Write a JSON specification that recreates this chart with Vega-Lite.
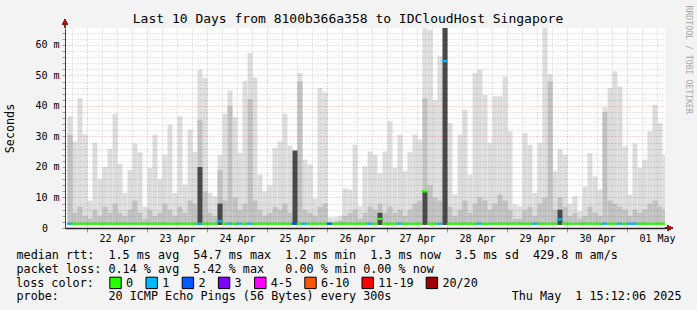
{
  "$schema": "https://vega.github.io/schema/vega-lite/v6.json",
  "width": 600,
  "height": 200,
  "autosize": {"type": "none"},
  "padding": {"left": 65, "top": 28, "right": 32, "bottom": 82},
  "background": "#f3f3f3",
  "title": {"text": "Last 10 Days from 8100b366a358 to IDCloudHost Singapore", "font": "DejaVu Sans Mono", "fontSize": 13, "fontWeight": "normal", "color": "#000000", "anchor": "middle", "frame": "group", "dx": -17, "dy": 35, "offset": 4, "baseline": "alphabetic"},
  "config": {
    "font": "DejaVu Sans Mono",
    "view": {"fill": "#ffffff", "stroke": null}
  },
  "data": {"values": [
    {"t": "2025-04-21T16:00", "hi": 36.6, "mid": 30.6, "med": 1.4, "loss": "1"},
    {"t": "2025-04-21T18:00", "hi": 28.4, "mid": 5, "med": 1.4, "loss": "0"},
    {"t": "2025-04-21T20:00", "hi": 42.6, "mid": 7, "med": 1.4, "loss": "0"},
    {"t": "2025-04-21T22:00", "hi": 30.6, "mid": 4, "med": 1.4, "loss": "0"},
    {"t": "2025-04-22T00:00", "hi": 9, "mid": 3, "med": 1.4, "loss": "0"},
    {"t": "2025-04-22T02:00", "hi": 28, "mid": 6, "med": 1.4, "loss": "0"},
    {"t": "2025-04-22T04:00", "hi": 16, "mid": 4, "med": 1.4, "loss": "0"},
    {"t": "2025-04-22T06:00", "hi": 20, "mid": 7, "med": 1.4, "loss": "0"},
    {"t": "2025-04-22T08:00", "hi": 25.9, "mid": 5, "med": 1.4, "loss": "0"},
    {"t": "2025-04-22T10:00", "hi": 37.5, "mid": 8, "med": 1.4, "loss": "0"},
    {"t": "2025-04-22T12:00", "hi": 21, "mid": 5, "med": 1.4, "loss": "0"},
    {"t": "2025-04-22T14:00", "hi": 11.5, "mid": 4, "med": 1.4, "loss": "0"},
    {"t": "2025-04-22T16:00", "hi": 19, "mid": 6, "med": 1.4, "loss": "0"},
    {"t": "2025-04-22T18:00", "hi": 27.7, "mid": 9, "med": 1.4, "loss": "0"},
    {"t": "2025-04-22T20:00", "hi": 24.8, "mid": 5, "med": 1.4, "loss": "0"},
    {"t": "2025-04-22T22:00", "hi": 7, "mid": 3, "med": 1.4, "loss": "0"},
    {"t": "2025-04-23T00:00", "hi": 19.7, "mid": 6, "med": 1.4, "loss": "0"},
    {"t": "2025-04-23T02:00", "hi": 30.6, "mid": 4, "med": 1.4, "loss": "0"},
    {"t": "2025-04-23T04:00", "hi": 16, "mid": 5, "med": 1.4, "loss": "0"},
    {"t": "2025-04-23T06:00", "hi": 24, "mid": 8, "med": 1.4, "loss": "0"},
    {"t": "2025-04-23T08:00", "hi": 33.9, "mid": 6, "med": 1.4, "loss": "0"},
    {"t": "2025-04-23T10:00", "hi": 11.5, "mid": 4, "med": 1.4, "loss": "0"},
    {"t": "2025-04-23T12:00", "hi": 36.6, "mid": 7, "med": 1.4, "loss": "0"},
    {"t": "2025-04-23T14:00", "hi": 14.2, "mid": 5, "med": 1.4, "loss": "0"},
    {"t": "2025-04-23T16:00", "hi": 32.2, "mid": 9, "med": 1.4, "loss": "0"},
    {"t": "2025-04-23T18:00", "hi": 25, "mid": 8, "med": 1.4, "loss": "0"},
    {"t": "2025-04-23T20:00", "hi": 51.9, "mid": 35.5, "dk": 20, "med": 1.4, "loss": "1"},
    {"t": "2025-04-23T22:00", "hi": 49.2, "mid": 12, "med": 1.4, "loss": "0"},
    {"t": "2025-04-24T00:00", "hi": 11.5, "mid": 5, "med": 1.4, "loss": "0"},
    {"t": "2025-04-24T02:00", "hi": 10.4, "mid": 4, "med": 1.4, "loss": "0"},
    {"t": "2025-04-24T04:00", "hi": 24, "mid": 19, "dk": 8, "med": 2.2, "loss": "1"},
    {"t": "2025-04-24T06:00", "hi": 37.5, "mid": 9, "med": 1.4, "loss": "0"},
    {"t": "2025-04-24T08:00", "hi": 45.1, "mid": 40, "med": 1.4, "loss": "1"},
    {"t": "2025-04-24T10:00", "hi": 36.4, "mid": 10, "med": 1.4, "loss": "0"},
    {"t": "2025-04-24T12:00", "hi": 24.6, "mid": 6, "med": 1.4, "loss": "1"},
    {"t": "2025-04-24T14:00", "hi": 48.3, "mid": 8, "med": 1.4, "loss": "0"},
    {"t": "2025-04-24T16:00", "hi": 57.4, "mid": 42.3, "med": 1.4, "loss": "1"},
    {"t": "2025-04-24T18:00", "hi": 49.4, "mid": 9, "med": 1.4, "loss": "0"},
    {"t": "2025-04-24T20:00", "hi": 17.5, "mid": 6, "med": 1.4, "loss": "0"},
    {"t": "2025-04-24T22:00", "hi": 12, "mid": 4, "med": 1.4, "loss": "0"},
    {"t": "2025-04-25T00:00", "hi": 14.2, "mid": 5, "med": 1.4, "loss": "0"},
    {"t": "2025-04-25T02:00", "hi": 26.2, "mid": 7, "med": 1.4, "loss": "0"},
    {"t": "2025-04-25T04:00", "hi": 28.4, "mid": 6, "med": 1.4, "loss": "0"},
    {"t": "2025-04-25T06:00", "hi": 37.4, "mid": 8, "med": 1.4, "loss": "0"},
    {"t": "2025-04-25T08:00", "hi": 27, "mid": 5, "med": 1.4, "loss": "0"},
    {"t": "2025-04-25T10:00", "hi": 25.4, "mid": 10, "dk": 25.4, "med": 1.4, "loss": "2"},
    {"t": "2025-04-25T12:00", "hi": 50.8, "mid": 48, "med": 1.4, "loss": "0"},
    {"t": "2025-04-25T14:00", "hi": 22.4, "mid": 6, "med": 1.4, "loss": "1"},
    {"t": "2025-04-25T16:00", "hi": 20.8, "mid": 5, "med": 1.4, "loss": "0"},
    {"t": "2025-04-25T18:00", "hi": 9.8, "mid": 4, "med": 1.4, "loss": "0"},
    {"t": "2025-04-25T20:00", "hi": 45.9, "mid": 7, "med": 1.4, "loss": "0"},
    {"t": "2025-04-25T22:00", "hi": 44.5, "mid": 8, "med": 1.4, "loss": "0"},
    {"t": "2025-04-26T00:00", "hi": 3.5, "mid": 2, "med": 1.4, "loss": "2"},
    {"t": "2025-04-26T02:00", "hi": 3.5, "mid": 2, "med": 1.4, "loss": "0"},
    {"t": "2025-04-26T04:00", "hi": 4, "mid": 2.5, "med": 1.4, "loss": "0"},
    {"t": "2025-04-26T06:00", "hi": 13, "mid": 4, "med": 1.4, "loss": "0"},
    {"t": "2025-04-26T08:00", "hi": 12.6, "mid": 5, "med": 1.4, "loss": "0"},
    {"t": "2025-04-26T10:00", "hi": 27.3, "mid": 6, "med": 1.4, "loss": "0"},
    {"t": "2025-04-26T12:00", "hi": 7.1, "mid": 3, "med": 1.4, "loss": "0"},
    {"t": "2025-04-26T14:00", "hi": 20.2, "mid": 5, "med": 1.4, "loss": "0"},
    {"t": "2025-04-26T16:00", "hi": 25.1, "mid": 7, "med": 1.4, "loss": "1"},
    {"t": "2025-04-26T18:00", "hi": 24, "mid": 6, "med": 1.4, "loss": "0"},
    {"t": "2025-04-26T20:00", "hi": 18, "mid": 8, "dk": 5, "med": 3.0, "loss": "0"},
    {"t": "2025-04-26T22:00", "hi": 25.1, "mid": 5, "med": 1.4, "loss": "0"},
    {"t": "2025-04-27T00:00", "hi": 35, "mid": 7, "med": 1.4, "loss": "0"},
    {"t": "2025-04-27T02:00", "hi": 19.7, "mid": 5, "med": 1.4, "loss": "0"},
    {"t": "2025-04-27T04:00", "hi": 30.6, "mid": 6, "med": 1.4, "loss": "1"},
    {"t": "2025-04-27T06:00", "hi": 18.6, "mid": 4, "med": 1.4, "loss": "0"},
    {"t": "2025-04-27T08:00", "hi": 25, "mid": 6, "med": 1.4, "loss": "0"},
    {"t": "2025-04-27T10:00", "hi": 30.6, "mid": 8, "med": 1.4, "loss": "0"},
    {"t": "2025-04-27T12:00", "hi": 29, "mid": 9, "med": 1.4, "loss": "0"},
    {"t": "2025-04-27T14:00", "hi": 65.5, "mid": 42.6, "dk": 12, "med": 12, "loss": "0"},
    {"t": "2025-04-27T16:00", "hi": 65, "mid": 14, "med": 1.4, "loss": "0"},
    {"t": "2025-04-27T18:00", "hi": 42, "mid": 10, "med": 1.4, "loss": "0"},
    {"t": "2025-04-27T20:00", "hi": 56.3, "mid": 9, "med": 1.4, "loss": "1"},
    {"t": "2025-04-27T22:00", "hi": 65.6, "mid": 20, "dk": 65.6, "med": 54.7, "loss": "1"},
    {"t": "2025-04-28T00:00", "hi": 34.4, "mid": 7, "med": 1.4, "loss": "0"},
    {"t": "2025-04-28T02:00", "hi": 11, "mid": 4, "med": 1.4, "loss": "0"},
    {"t": "2025-04-28T04:00", "hi": 30.6, "mid": 6, "med": 1.4, "loss": "0"},
    {"t": "2025-04-28T06:00", "hi": 38.8, "mid": 9, "med": 1.4, "loss": "0"},
    {"t": "2025-04-28T08:00", "hi": 17.5, "mid": 5, "med": 1.4, "loss": "0"},
    {"t": "2025-04-28T10:00", "hi": 50.8, "mid": 8, "med": 1.4, "loss": "0"},
    {"t": "2025-04-28T12:00", "hi": 51.9, "mid": 10, "med": 1.4, "loss": "1"},
    {"t": "2025-04-28T14:00", "hi": 43.7, "mid": 9, "med": 1.4, "loss": "0"},
    {"t": "2025-04-28T16:00", "hi": 27.9, "mid": 6, "med": 1.4, "loss": "0"},
    {"t": "2025-04-28T18:00", "hi": 43.2, "mid": 8, "med": 1.4, "loss": "0"},
    {"t": "2025-04-28T20:00", "hi": 43.2, "mid": 11, "med": 1.4, "loss": "0"},
    {"t": "2025-04-28T22:00", "hi": 49.7, "mid": 9, "med": 1.4, "loss": "0"},
    {"t": "2025-04-29T00:00", "hi": 31.7, "mid": 6, "med": 1.4, "loss": "0"},
    {"t": "2025-04-29T02:00", "hi": 7.7, "mid": 3, "med": 1.4, "loss": "0"},
    {"t": "2025-04-29T04:00", "hi": 7.1, "mid": 3, "med": 1.4, "loss": "0"},
    {"t": "2025-04-29T06:00", "hi": 31.1, "mid": 6, "med": 1.4, "loss": "0"},
    {"t": "2025-04-29T08:00", "hi": 27.3, "mid": 7, "med": 1.4, "loss": "0"},
    {"t": "2025-04-29T10:00", "hi": 11.5, "mid": 4, "med": 1.4, "loss": "1"},
    {"t": "2025-04-29T12:00", "hi": 27.9, "mid": 8, "med": 1.4, "loss": "0"},
    {"t": "2025-04-29T14:00", "hi": 65.6, "mid": 10, "med": 1.4, "loss": "0"},
    {"t": "2025-04-29T16:00", "hi": 50.5, "mid": 48, "med": 1.4, "loss": "0"},
    {"t": "2025-04-29T18:00", "hi": 18.6, "mid": 6, "med": 1.4, "loss": "0"},
    {"t": "2025-04-29T20:00", "hi": 25.9, "mid": 10, "dk": 6, "med": 2.8, "loss": "1"},
    {"t": "2025-04-29T22:00", "hi": 24, "mid": 7, "med": 1.4, "loss": "0"},
    {"t": "2025-04-30T00:00", "hi": 8, "mid": 4, "med": 1.4, "loss": "0"},
    {"t": "2025-04-30T02:00", "hi": 10.4, "mid": 5, "med": 1.4, "loss": "0"},
    {"t": "2025-04-30T04:00", "hi": 5.5, "mid": 3, "med": 1.4, "loss": "0"},
    {"t": "2025-04-30T06:00", "hi": 13.7, "mid": 4, "med": 1.4, "loss": "0"},
    {"t": "2025-04-30T08:00", "hi": 24.6, "mid": 7, "med": 1.4, "loss": "0"},
    {"t": "2025-04-30T10:00", "hi": 16.9, "mid": 5, "med": 1.4, "loss": "0"},
    {"t": "2025-04-30T12:00", "hi": 12.6, "mid": 4, "med": 1.4, "loss": "0"},
    {"t": "2025-04-30T14:00", "hi": 39.6, "mid": 38, "med": 1.4, "loss": "1"},
    {"t": "2025-04-30T16:00", "hi": 45.9, "mid": 9, "med": 1.4, "loss": "0"},
    {"t": "2025-04-30T18:00", "hi": 51.4, "mid": 8, "med": 1.4, "loss": "0"},
    {"t": "2025-04-30T20:00", "hi": 46.4, "mid": 7, "med": 1.4, "loss": "1"},
    {"t": "2025-04-30T22:00", "hi": 26.8, "mid": 6, "med": 1.4, "loss": "0"},
    {"t": "2025-05-01T00:00", "hi": 10.9, "mid": 4, "med": 1.4, "loss": "1"},
    {"t": "2025-05-01T02:00", "hi": 27.7, "mid": 6, "med": 1.4, "loss": "1"},
    {"t": "2025-05-01T04:00", "hi": 19.7, "mid": 5, "med": 1.4, "loss": "0"},
    {"t": "2025-05-01T06:00", "hi": 22.4, "mid": 6, "med": 1.4, "loss": "0"},
    {"t": "2025-05-01T08:00", "hi": 31.7, "mid": 8, "med": 1.4, "loss": "0"},
    {"t": "2025-05-01T10:00", "hi": 40.4, "mid": 9, "med": 1.4, "loss": "0"},
    {"t": "2025-05-01T12:00", "hi": 34.4, "mid": 7, "med": 1.4, "loss": "0"},
    {"t": "2025-05-01T14:00", "hi": 24, "mid": 6, "med": 1.4, "loss": "0"}
  ]},
  "resolve": {"axis": {"x": "independent", "y": "independent"}},
  "layer": [
    {
      "mark": {"type": "bar", "color": "#dddddd", "clip": true, "binSpacing": 0},
      "encoding": {
        "x": {"field": "t", "type": "temporal", "timeUnit": {"unit": "yearmonthdatehours", "step": 2},
          "scale": {"domain": [{"year": 2025, "month": 4, "date": 21, "hours": 15, "minutes": 12, "seconds": 6}, {"year": 2025, "month": 5, "date": 1, "hours": 15, "minutes": 12, "seconds": 6}]},
          "axis": {
            "orient": "bottom",
            "title": ["median rtt:\u00a0\u00a01.5 ms avg\u00a0\u00a054.7 ms max\u00a0\u00a01.2 ms min\u00a0\u00a01.3 ms now\u00a0\u00a03.5 ms sd\u00a0\u00a0429.8 m am/s", "packet loss: 0.14 % avg\u00a0\u00a05.42 % max\u00a0\u00a0\u00a00.00 % min 0.00 % now"],
            "titleFont": "DejaVu Sans Mono", "titleFontSize": 11.75, "titleFontWeight": "normal", "titleColor": "#000000",
            "titleLineHeight": 13.6, "titleAlign": "left", "titleBaseline": "alphabetic", "titleAngle": 0, "titleX": -49, "titleY": 30.5,
            "tickCount": 40,
            "labelExpr": "hours(datum.value) === 12 ? timeFormat(datum.value, '%d %b') : ''",
            "labelFont": "DejaVu Sans Mono", "labelFontSize": 10, "labelColor": "#000000", "labelOverlap": false, "labelFlush": false, "labelPadding": 1,
            "tickSize": 4,
            "tickColor": {"condition": {"test": "hours(datum.value) === 0", "value": "#e07070"}, "value": "transparent"},
            "grid": true,
            "gridColor": {"condition": {"test": "hours(datum.value) === 0", "value": "#e00000"}, "value": "#000000"},
            "gridOpacity": {"condition": {"test": "hours(datum.value) === 0", "value": 0.33}, "value": 0.2},
            "gridDash": [1, 2],
            "domainColor": "#222222", "domainWidth": 1.5,
            "zindex": 1
          }
        },
        "y": {"field": "hi", "type": "quantitative",
          "scale": {"domain": [0, 65.57], "nice": false, "zero": true},
          "axis": {
            "orient": "left",
            "title": "Seconds", "titleFont": "DejaVu Sans Mono", "titleFontSize": 11.75, "titleFontWeight": "normal", "titleColor": "#000000",
            "titleAngle": 270, "titleX": -55.5, "titleY": 100, "titleAlign": "center", "titleBaseline": "middle",
            "values": [0, 2, 4, 6, 8, 10, 12, 14, 16, 18, 20, 22, 24, 26, 28, 30, 32, 34, 36, 38, 40, 42, 44, 46, 48, 50, 52, 54, 56, 58, 60, 62, 64],
            "labelExpr": "datum.value % 10 == 0 ? (datum.value == 0 ? '0' : (datum.value + ' m')) : ''",
            "labelFont": "DejaVu Sans Mono", "labelFontSize": 10, "labelColor": "#000000", "labelOverlap": false,
            "labelPadding": {"condition": {"test": "datum.value == 0", "value": 14.5}, "value": 3},
            "tickSize": 3, "tickColor": "#999999",
            "grid": true,
            "gridColor": {"condition": {"test": "datum.value % 10 == 0", "value": "#e00000"}, "value": "#000000"},
            "gridOpacity": {"condition": {"test": "datum.value % 10 == 0", "value": 0.33}, "value": 0.2},
            "gridDash": [1, 2],
            "domainColor": "#444444",
            "zindex": 1
          }
        },
        "y2": {"datum": 1.0}
      }
    },
    {
      "mark": {"type": "bar", "color": "#c2c2c2", "clip": true, "binSpacing": 0},
      "encoding": {
        "x": {"field": "t", "type": "temporal", "timeUnit": {"unit": "yearmonthdatehours", "step": 2}, "axis": null},
        "y": {"field": "mid", "type": "quantitative", "axis": null},
        "y2": {"datum": 1.0}
      }
    },
    {
      "mark": {"type": "bar", "color": "#4a4a4a", "clip": true, "binSpacing": 0},
      "encoding": {
        "x": {"field": "t", "type": "temporal", "timeUnit": {"unit": "yearmonthdatehours", "step": 2}, "axis": null},
        "y": {"field": "dk", "type": "quantitative", "axis": null},
        "y2": {"datum": 1.0}
      }
    },
    {
      "mark": {"type": "tick", "orient": "horizontal", "size": 5.4, "thickness": 2.2, "opacity": 1, "clip": true},
      "encoding": {
        "x": {"field": "t", "type": "temporal", "timeUnit": {"unit": "yearmonthdatehours", "step": 2}, "bandPosition": 0.5,
          "axis": {"orient": "top", "title": "probe:\u00a0\u00a0\u00a0\u00a0\u00a0\u00a0\u00a020 ICMP Echo Pings (56 Bytes) every 300s\u00a0\u00a0\u00a0\u00a0\u00a0\u00a0\u00a0\u00a0\u00a0\u00a0\u00a0\u00a0\u00a0\u00a0\u00a0\u00a0\u00a0Thu May\u00a0\u00a01 15:12:06 2025",
            "titleFont": "DejaVu Sans Mono", "titleFontSize": 11.75, "titleFontWeight": "normal", "titleColor": "#000000",
            "titleAlign": "left", "titleBaseline": "alphabetic", "titleAngle": 0, "titleX": -49, "titleY": 271.8,
            "labels": false, "ticks": false, "domain": false, "grid": false}
        },
        "y": {"field": "med", "type": "quantitative",
          "axis": {"orient": "right", "title": "RRDTOOL / TOBI OETIKER", "titleFont": "DejaVu Sans Mono", "titleFontSize": 8.2, "titleFontWeight": "normal", "titleColor": "#a8a8a8",
            "titleAngle": 90, "titleX": 22, "titleY": -23, "titleAlign": "left", "titleBaseline": "middle",
            "labels": false, "ticks": false, "domain": false, "grid": false}
        },
        "color": {"field": "loss", "type": "nominal",
          "scale": {"domain": ["0", "1", "2", "3", "4-5", "6-10", "11-19", "20/20"], "range": ["#26ff00", "#00b8ff", "#0059ff", "#7e00ff", "#ff00ff", "#ff5500", "#ff0000", "#a10000"]},
          "legend": {"title": "loss color:", "orient": "none", "legendX": -49, "legendY": 248, "direction": "horizontal",
            "titleOrient": "left", "titleFont": "DejaVu Sans Mono", "titleFontSize": 11.75, "titleFontWeight": "normal", "titleColor": "#000000", "titlePadding": 15,
            "labelFont": "DejaVu Sans Mono", "labelFontSize": 11.75, "labelColor": "#000000", "labelOffset": 4,
            "symbolType": "square", "symbolSize": 130, "symbolStrokeColor": "#000000", "symbolStrokeWidth": 1, "symbolOpacity": 1,
            "columnPadding": 9.2}
        }
      }
    },
    {
      "mark": {"type": "rule", "color": "#444444", "strokeWidth": 1},
      "encoding": {
        "x": {"datum": {"year": 2025, "month": 4, "date": 21, "hours": 15, "minutes": 12, "seconds": 6}, "type": "temporal", "axis": null},
        "y": {"datum": 65.57, "type": "quantitative", "axis": null},
        "y2": {"datum": 67}
      }
    },
    {
      "mark": {"type": "rule", "color": "#222222", "strokeWidth": 1.5},
      "encoding": {
        "x": {"datum": {"year": 2025, "month": 5, "date": 1, "hours": 15, "minutes": 12, "seconds": 6}, "type": "temporal", "axis": null},
        "x2": {"datum": {"year": 2025, "month": 5, "date": 1, "hours": 16, "minutes": 40}},
        "y": {"datum": 0, "type": "quantitative", "axis": null}
      }
    },
    {
      "mark": {"type": "point", "shape": "triangle-up", "size": 30, "filled": true, "opacity": 1, "color": "#a31515"},
      "encoding": {
        "x": {"datum": {"year": 2025, "month": 4, "date": 21, "hours": 15, "minutes": 12, "seconds": 6}, "type": "temporal", "axis": null},
        "y": {"datum": 67.6, "type": "quantitative", "axis": null}
      }
    },
    {
      "mark": {"type": "point", "shape": "triangle-right", "size": 30, "filled": true, "opacity": 1, "color": "#a31515"},
      "encoding": {
        "x": {"datum": {"year": 2025, "month": 5, "date": 1, "hours": 17, "minutes": 15}, "type": "temporal", "axis": null},
        "y": {"datum": 0, "type": "quantitative", "axis": null}
      }
    }
  ]
}
